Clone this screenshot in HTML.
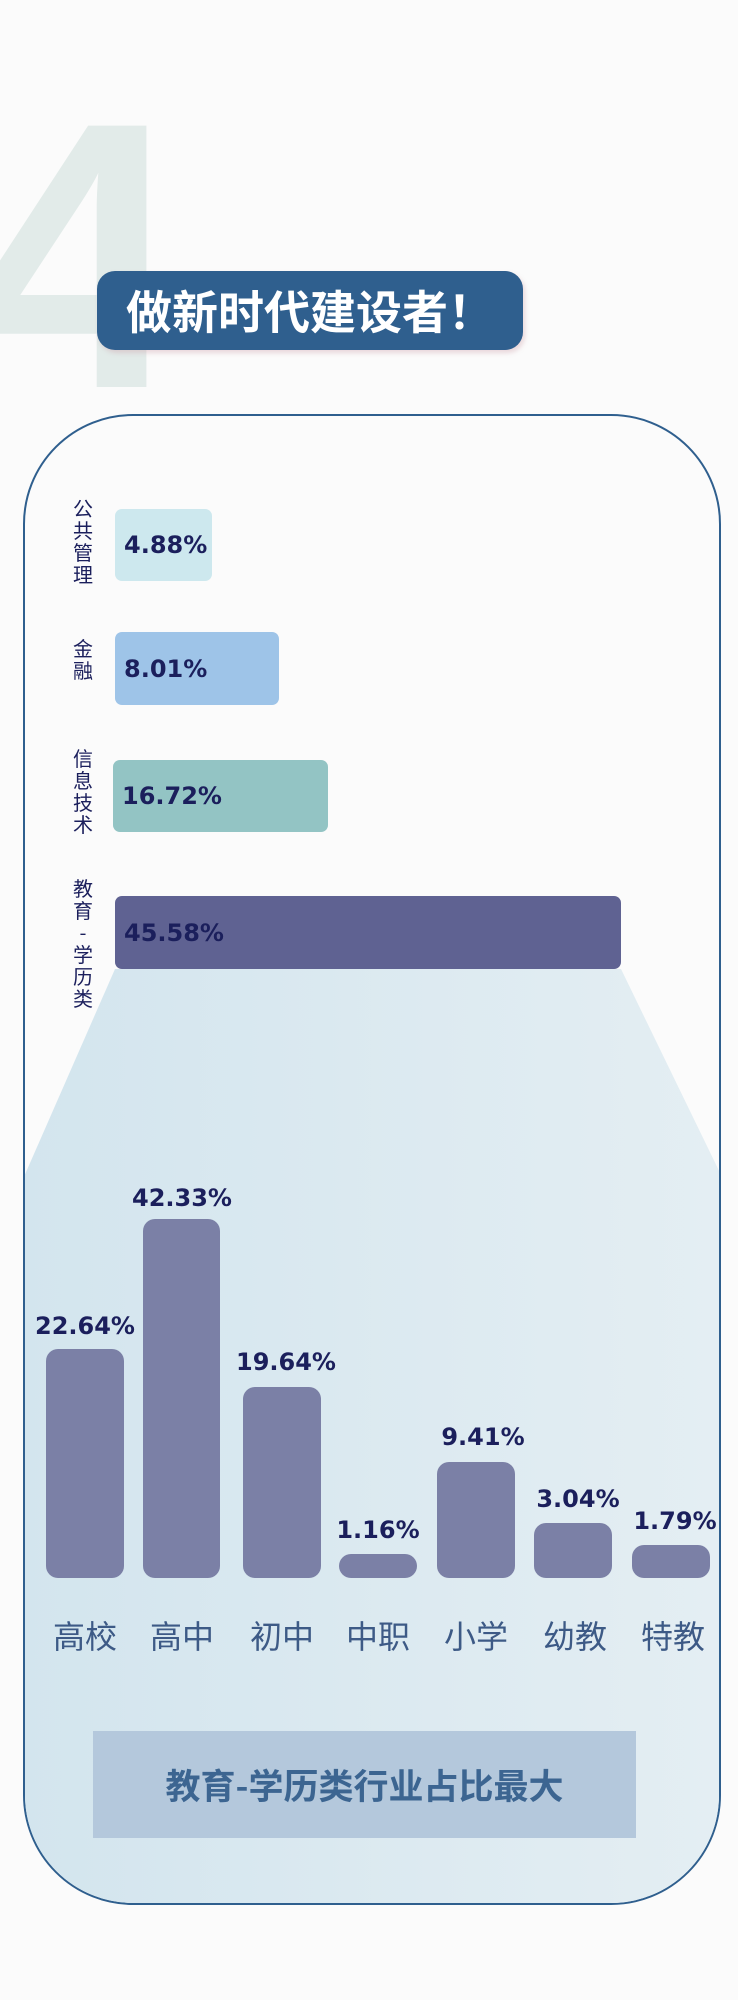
<!DOCTYPE html>
<html><head><meta charset="utf-8"><style>
*{margin:0;padding:0;box-sizing:border-box}
body{width:738px;height:2000px;background:#fbfbfb;position:relative;overflow:hidden;font-family:"Liberation Sans","Noto Sans CJK SC",sans-serif}
.abs{position:absolute}
.four{left:-28px;top:66px;font-size:380px;font-weight:bold;color:#e2ebe9;line-height:1;font-family:"Liberation Sans",sans-serif}
.banner{left:97px;top:271px;width:426px;height:79px;background:#2f5f8e;border-radius:18px;color:#fff;font-weight:bold;font-size:46px;line-height:79px;text-align:center;letter-spacing:0;box-shadow:2px 3px 5px rgba(200,150,160,.35);font-family:"Noto Sans CJK SC",sans-serif}
.box{left:23px;top:414px;width:698px;height:1491px;border:2.5px solid #2f5f8e;border-radius:110px;overflow:hidden}
.hb{position:absolute;left:115px;border-radius:7px;color:#1b1f5c;font-weight:bold;font-size:24px;padding-left:9px;display:flex;align-items:center;font-family:"DejaVu Sans",sans-serif}
.vl{position:absolute;left:70px;width:26px;font-size:20px;line-height:22px;color:#1b1f5c;text-align:center;font-family:"Noto Sans CJK SC",sans-serif}
.vb{position:absolute;background:#7b80a6;border-radius:12px}
.val{position:absolute;width:140px;text-align:center;font-weight:bold;font-size:24px;line-height:28px;color:#1b1f5c;font-family:"DejaVu Sans",sans-serif}
.cat{position:absolute;width:110px;text-align:center;font-size:32px;line-height:40px;color:#3d5a86;top:1615px;font-family:"Noto Sans CJK SC",sans-serif}
</style></head><body>
<div class="abs four">4</div>
<div class="abs box">
<svg width="698" height="1491" style="position:absolute;left:-2.5px;top:-2.5px">
<defs><linearGradient id="g" x1="0" x2="1" y1="0" y2="0"><stop offset="0" stop-color="#d3e5ee"/><stop offset="1" stop-color="#e4eef3"/></linearGradient></defs>
<polygon points="92,555 598,555 700,765 700,1491 0,1491 0,765" fill="url(#g)"/>
</svg>
</div>
<div class="abs banner">做新时代建设者！</div>

<div class="vl" style="top:497px">公<br>共<br>管<br>理</div>
<div class="hb" style="top:509px;width:97px;height:72px;background:#cde8ee">4.88%</div>
<div class="vl" style="top:637px">金<br>融</div>
<div class="hb" style="top:632px;width:164px;height:73px;background:#9ec4e8">8.01%</div>
<div class="vl" style="top:747px">信<br>息<br>技<br>术</div>
<div class="hb" style="top:760px;left:113px;width:215px;height:72px;background:#93c4c4">16.72%</div>
<div class="vl" style="top:877px">教<br>育<br>-<br>学<br>历<br>类</div>
<div class="hb" style="top:896px;width:506px;height:73px;background:#5f6292">45.58%</div>

<div class="vb" style="left:46px;width:78px;top:1349px;height:229px"></div>
<div class="vb" style="left:143px;width:77px;top:1219px;height:359px"></div>
<div class="vb" style="left:243px;width:78px;top:1387px;height:191px"></div>
<div class="vb" style="left:339px;width:78px;top:1554px;height:24px"></div>
<div class="vb" style="left:437px;width:78px;top:1462px;height:116px"></div>
<div class="vb" style="left:534px;width:78px;top:1523px;height:55px"></div>
<div class="vb" style="left:632px;width:78px;top:1545px;height:33px"></div>

<div class="val" style="left:15px;top:1312px">22.64%</div>
<div class="val" style="left:112px;top:1184px">42.33%</div>
<div class="val" style="left:216px;top:1348px">19.64%</div>
<div class="val" style="left:308px;top:1516px">1.16%</div>
<div class="val" style="left:413px;top:1423px">9.41%</div>
<div class="val" style="left:508px;top:1485px">3.04%</div>
<div class="val" style="left:605px;top:1507px">1.79%</div>

<div class="cat" style="left:30px">高校</div>
<div class="cat" style="left:127px">高中</div>
<div class="cat" style="left:227px">初中</div>
<div class="cat" style="left:323px">中职</div>
<div class="cat" style="left:421px">小学</div>
<div class="cat" style="left:520px">幼教</div>
<div class="cat" style="left:618px">特教</div>

<div class="abs" style="left:93px;top:1731px;width:543px;height:107px;background:#b4c8dc;color:#3c6591;font-weight:bold;font-size:35px;line-height:107px;text-align:center;font-family:'Noto Sans CJK SC',sans-serif">教育-学历类行业占比最大</div>
</body></html>
